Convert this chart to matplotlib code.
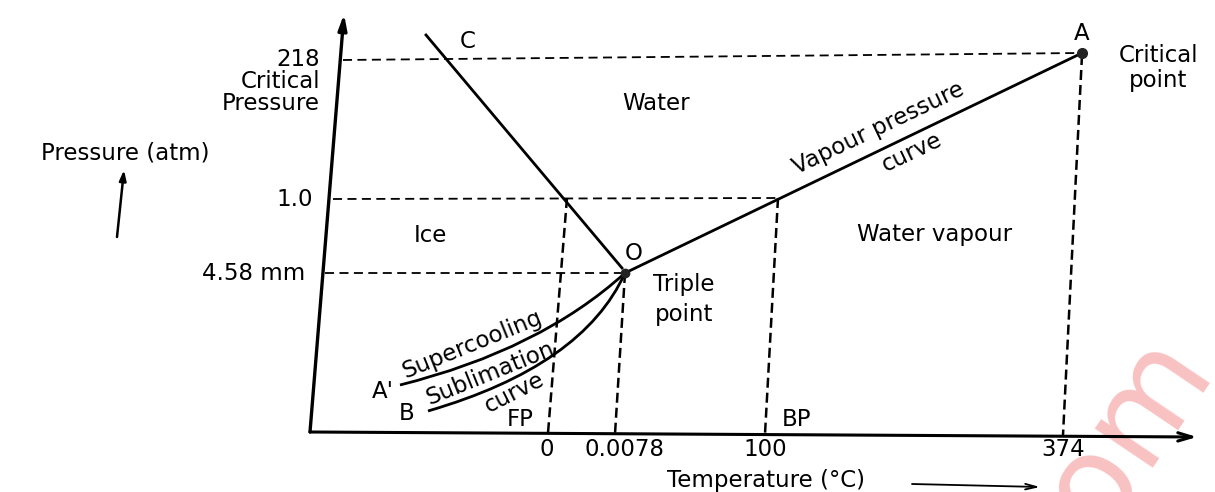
import matplotlib
matplotlib.use("Agg")
import matplotlib.pyplot as plt
from matplotlib.path import Path
from matplotlib.patches import PathPatch

# ---- data (labels / values shown on the schematic phase diagram) ----
temp_labels = ['0', '0.0078', '100', '374']
temp_marks = ['FP', '', 'BP', '']
pressure_labels = ['218', '1.0', '4.58 mm']
region_labels = ['Water', 'Ice', 'Water vapour']

# ---- schematic layout (diagram units; y grows downward) ----
origin = (310, 432)
yaxis_top = (344, 14)
xaxis_end = (1197, 437)
pt_O = (625, 273)
pt_A = (1082, 53)
pt_C = (426, 35)
pt_Aprime = (400, 385)
pt_B = (428, 411)
p_left_y = [60, 199, 273]          # y at the y-axis end of the dashed lines
p_right_y = [53, 198, 273]         # y at the far end of the dashed lines
p_left = [343, 333, 325]           # x where dashed lines start at the y axis
p_right = [1080, 778, 625]         # x where dashed lines end
t_top = [(567, 198), (625, 273), (778, 198), (1082, 55)]
t_bottom = [(548, 433), (615, 434), (765, 434), (1063, 435)]

fig = plt.figure(figsize=(12.15, 4.92), dpi=100)
ax = fig.add_axes([0, 0, 1, 1])
ax.set_xlim(0, 1215)
ax.set_ylim(492, 0)
ax.axis('off')

FS = 16.5
k = 'black'

# watermark fragment
ax.text(1128, 432, 'om', fontsize=92, color='#f9c2c2', rotation=56,
        ha='center', va='center', zorder=0, clip_on=True)

# axes
ax.annotate('', xy=yaxis_top, xytext=origin,
            arrowprops=dict(arrowstyle='-|>,head_length=0.9,head_width=0.25',
                            lw=2.4, color=k, shrinkA=0, shrinkB=0))
ax.annotate('', xy=xaxis_end, xytext=origin,
            arrowprops=dict(arrowstyle='->,head_length=1.0,head_width=0.3',
                            lw=2.2, color=k, shrinkA=0, shrinkB=0))

# dashed horizontal lines
for yl, yr, xl, xr in zip(p_left_y, p_right_y, p_left, p_right):
    ax.plot([xl, xr], [yl, yr], ls=(0, (5, 3)), color=k, lw=1.3)
# dashed vertical lines
for (xt, yt), (xb, yb) in zip(t_top, t_bottom):
    ax.plot([xt, xb], [yt, yb], ls=(0, (4, 2)), color=k, lw=1.8)

# fusion line (C -> O) and vapour pressure line (O -> A)
ax.plot([pt_C[0], pt_O[0] - 3], [pt_C[1], pt_O[1] - 5], color=k, lw=2.0)
ax.plot([pt_O[0], pt_A[0]], [pt_O[1], pt_A[1]], color=k, lw=2.0)

# supercooling curve A' -> O and sublimation curve B -> O
sc = Path([pt_Aprime, (540, 350), pt_O], [Path.MOVETO, Path.CURVE3, Path.CURVE3])
sb = Path([pt_B, (583, 366), pt_O], [Path.MOVETO, Path.CURVE3, Path.CURVE3])
ax.add_patch(PathPatch(sc, fill=False, lw=2.0, color=k))
ax.add_patch(PathPatch(sb, fill=False, lw=2.0, color=k))

# points
ax.plot(*pt_O, 'o', color='#222', ms=6)
ax.plot(*pt_A, 'o', color='#222', ms=7)

# pressure labels
ax.text(320, 60, pressure_labels[0], fontsize=FS, ha='right', va='center')
ax.text(320, 82, 'Critical', fontsize=FS, ha='right', va='center')
ax.text(320, 104, 'Pressure', fontsize=FS, ha='right', va='center')
ax.text(313, 200, pressure_labels[1], fontsize=FS, ha='right', va='center')
ax.text(305, 273, pressure_labels[2], fontsize=FS, ha='right', va='center')
ax.text(125, 153, 'Pressure (atm)', fontsize=FS, ha='center', va='center')
ax.annotate('', xy=(124, 170), xytext=(117, 237),
            arrowprops=dict(arrowstyle='-|>,head_length=0.6,head_width=0.2',
                            lw=1.8, color=k, shrinkA=0, shrinkB=0))

# temperature labels
temp_x = [547, 625, 765, 1063]
for lab, xx in zip(temp_labels, temp_x):
    ax.text(xx, 450, lab, fontsize=FS, ha='center', va='center')
ax.text(520, 420, temp_marks[0], fontsize=FS, ha='center', va='center')
ax.text(796, 420, temp_marks[2], fontsize=FS, ha='center', va='center')
ax.text(766, 481, 'Temperature (°C)', fontsize=FS, ha='center', va='center')
ax.annotate('', xy=(1040, 487), xytext=(912, 484),
            arrowprops=dict(arrowstyle='->,head_length=0.8,head_width=0.2',
                            lw=1.3, color=k, shrinkA=0, shrinkB=0))

# region labels
ax.text(656, 103, region_labels[0], fontsize=FS, ha='center', va='center')
ax.text(430, 236, region_labels[1], fontsize=FS, ha='center', va='center')
ax.text(935, 235, region_labels[2], fontsize=FS, ha='center', va='center')

# point labels
ax.text(468, 42, 'C', fontsize=FS, ha='center', va='center')
ax.text(634, 253, 'O', fontsize=FS, ha='center', va='center')
ax.text(1082, 34, 'A', fontsize=FS, ha='center', va='center')
ax.text(1158, 55, 'Critical', fontsize=FS, ha='center', va='center')
ax.text(1158, 80, 'point', fontsize=FS, ha='center', va='center')
ax.text(684, 285, 'Triple', fontsize=FS, ha='center', va='center')
ax.text(684, 315, 'point', fontsize=FS, ha='center', va='center')
ax.text(383, 391, "A'", fontsize=FS, ha='center', va='center')
ax.text(407, 413, 'B', fontsize=FS, ha='center', va='center')

# curve labels
ax.text(878, 128, 'Vapour pressure', fontsize=FS, ha='center', va='center',
        rotation=25.5)
ax.text(912, 152, 'curve', fontsize=FS, ha='center', va='center', rotation=25.5)
ax.text(472, 344, 'Supercooling', fontsize=FS, ha='center', va='center',
        rotation=22)
ax.text(490, 373, 'Sublimation', fontsize=FS, ha='center', va='center',
        rotation=22)
ax.text(514, 393, 'curve', fontsize=FS, ha='center', va='center', rotation=27)

fig.savefig('out.png', dpi=100)
